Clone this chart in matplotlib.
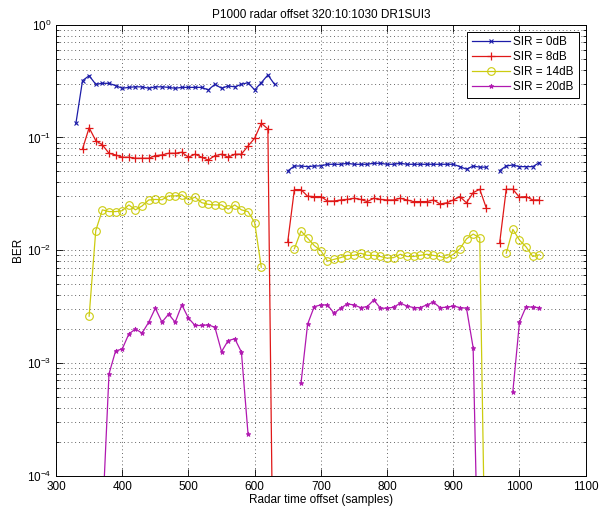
import numpy as np
import matplotlib
matplotlib.use("Agg")
import matplotlib.pyplot as plt
import matplotlib.ticker as mticker

plt.rcParams["font.family"] = ["Liberation Sans", "DejaVu Sans"]
plt.rcParams["mathtext.fontset"] = "custom"
plt.rcParams["mathtext.rm"] = "Liberation Sans"

nan = np.nan

# radar time offset 320:10:1030
offsets = [320, 330, 340, 350, 360, 370, 380, 390, 400, 410, 420, 430,
           440, 450, 460, 470, 480, 490, 500, 510, 520, 530, 540, 550,
           560, 570, 580, 590, 600, 610, 620, 630, 640, 650, 660, 670,
           680, 690, 700, 710, 720, 730, 740, 750, 760, 770, 780, 790,
           800, 810, 820, 830, 840, 850, 860, 870, 880, 890, 900, 910,
           920, 930, 940, 950, 960, 970, 980, 990, 1000, 1010, 1020, 1030]

ber_0db = [nan, 0.133, 0.319, 0.353, 0.296, 0.302, 0.302, 0.288, 0.273, 0.278,
           0.281, 0.281, 0.273, 0.281, 0.281, 0.278, 0.273, 0.278, 0.278, 0.278,
           0.278, 0.264, 0.296, 0.273, 0.286, 0.281, 0.296, 0.306, 0.264, 0.306,
           0.358, 0.296, nan, 0.0505, 0.0558, 0.0558, 0.0551, 0.0558, 0.056, 0.0578,
           0.0578, 0.0578, 0.059, 0.0578, 0.0578, 0.0578, 0.059, 0.059, 0.0578, 0.0578,
           0.059, 0.0578, 0.0578, 0.0578, 0.0578, 0.0578, 0.0578, 0.0578, 0.0578, 0.0551,
           0.0523, 0.0558, 0.0545, 0.0545, nan, 0.0508, 0.0558, 0.057, 0.0551, 0.0551,
           0.0551, 0.0598]

ber_8db = [nan, nan, 0.079, 0.122, 0.0937, 0.0859, 0.0724, 0.070, 0.0668, 0.0668,
           0.0654, 0.0654, 0.0654, 0.069, 0.070, 0.0724, 0.0724, 0.0739, 0.0668, 0.071,
           0.0668, 0.063, 0.069, 0.071, 0.0668, 0.071, 0.071, 0.084, 0.0984, 0.1336,
           0.119, 9e-7, nan, 0.0119, 0.0345, 0.0345, 0.0301, 0.0299, 0.0299, 0.0273,
           0.0273, 0.0279, 0.0282, 0.0289, 0.0282, 0.027, 0.0289, 0.0282, 0.0279, 0.0279,
           0.0289, 0.0279, 0.027, 0.027, 0.027, 0.0279, 0.0257, 0.0263, 0.0279, 0.0299,
           0.0263, 0.0324, 0.0347, 0.0236, nan, 0.0115, 0.0347, 0.0347, 0.0295, 0.0299,
           0.0279, 0.0279]

ber_14db = [nan, nan, nan, 0.0026, 0.0149, 0.0228, 0.022, 0.022, 0.0224, 0.0252,
            0.0228, 0.0247, 0.0279, 0.0282, 0.028, 0.0303, 0.0303, 0.031, 0.028, 0.0295,
            0.0264, 0.0255, 0.0252, 0.0252, 0.0231, 0.0252, 0.0228, 0.022, 0.0176, 0.00707,
            nan, nan, nan, nan, 0.0103, 0.0148, 0.0128, 0.011, 0.0099, 0.0080,
            0.0083, 0.0086, 0.009, 0.009, 0.0094, 0.009, 0.009, 0.0088, 0.0085, 0.0086,
            0.0092, 0.0088, 0.0088, 0.009, 0.0092, 0.009, 0.0088, 0.0085, 0.0092, 0.0103,
            0.0126, 0.0139, 0.0129, 3e-6, nan, nan, 0.0094, 0.0153, 0.0123, 0.0107,
            0.0088, 0.0091]

ber_20db = [nan, nan, nan, nan, nan, 4e-5, 8.0e-4, 1.28e-3, 1.33e-3, 1.81e-3,
            2.0e-3, 1.84e-3, 2.30e-3, 3.06e-3, 2.3e-3, 2.71e-3, 2.3e-3, 3.27e-3, 2.5e-3, 2.15e-3,
            2.15e-3, 2.18e-3, 2.07e-3, 1.26e-3, 1.58e-3, 1.64e-3, 1.25e-3, 2.35e-4, nan, nan,
            nan, nan, nan, nan, nan, 6.6e-4, 2.21e-3, 3.16e-3, 3.27e-3, 3.27e-3,
            2.76e-3, 3.06e-3, 3.34e-3, 3.27e-3, 3.1e-3, 3.16e-3, 3.62e-3, 3.06e-3, 3.06e-3, 3.12e-3,
            3.39e-3, 3.2e-3, 3.1e-3, 3.1e-3, 3.27e-3, 3.46e-3, 3.1e-3, 3.12e-3, 3.2e-3, 3.1e-3,
            3.06e-3, 1.37e-3, 3e-6, nan, nan, nan, nan, 5.57e-4, 2.3e-3, 3.16e-3,
            3.12e-3, 3.1e-3]

labels = ["SIR = 0dB", "SIR = 8dB", "SIR = 14dB", "SIR = 20dB"]

# =============================================================================
# Plot
# =============================================================================
fig = plt.figure(figsize=(6.09, 5.11), dpi=100, facecolor="white")
ax = fig.add_axes([0.092, 0.069, 0.8697, 0.8827])

ax.semilogy(offsets, ber_0db, color="#1c1ca8", marker="x", ms=3.5, mew=0.8,
            lw=0.9, label=labels[0])
ax.semilogy(offsets, ber_8db, color="#e01818", marker="+", ms=6, mew=0.9,
            lw=0.9, label=labels[1])
ax.semilogy(offsets, ber_14db, color="#cccc10", marker="o", ms=5.5, mew=0.8,
            mfc="none", lw=0.9, label=labels[2])
ax.semilogy(offsets, ber_20db, color="#b018b0", marker="*", ms=3.5, mew=0.6,
            lw=0.9, label=labels[3])

ax.set_xlim(300, 1100)
ax.set_ylim(1e-4, 1e0)
ax.set_xticks(range(300, 1101, 100))
ax.yaxis.set_minor_locator(mticker.LogLocator(base=10, subs=np.arange(2, 10)))
ax.yaxis.set_minor_formatter(mticker.NullFormatter())

grid_style = dict(linestyle=(0, (1, 3.5)), color="0.2", lw=0.6)
ax.grid(True, which="major", axis="both", **grid_style)
ax.grid(True, which="minor", axis="y", **grid_style)

ax.tick_params(which="both", direction="in", top=True, right=True,
               labelsize=8.5, width=0.6)
ax.tick_params(which="major", length=5)
ax.tick_params(which="minor", length=2.5)
for sp in ax.spines.values():
    sp.set_linewidth(0.7)

ax.set_title("P1000 radar offset 320:10:1030 DR1SUI3", fontsize=8.5, pad=5)
ax.set_xlabel("Radar time offset (samples)", fontsize=8.5, labelpad=1)
ax.set_ylabel("BER", fontsize=8.5, labelpad=2)

leg = ax.legend(loc="upper right", fontsize=8.5, fancybox=False,
                edgecolor="black", framealpha=1, handlelength=3.2,
                borderaxespad=0.6, labelspacing=0.25, handletextpad=0.3)
leg.get_frame().set_linewidth(0.7)

plt.savefig("out.png", dpi=100, facecolor="white")
plt.close()
